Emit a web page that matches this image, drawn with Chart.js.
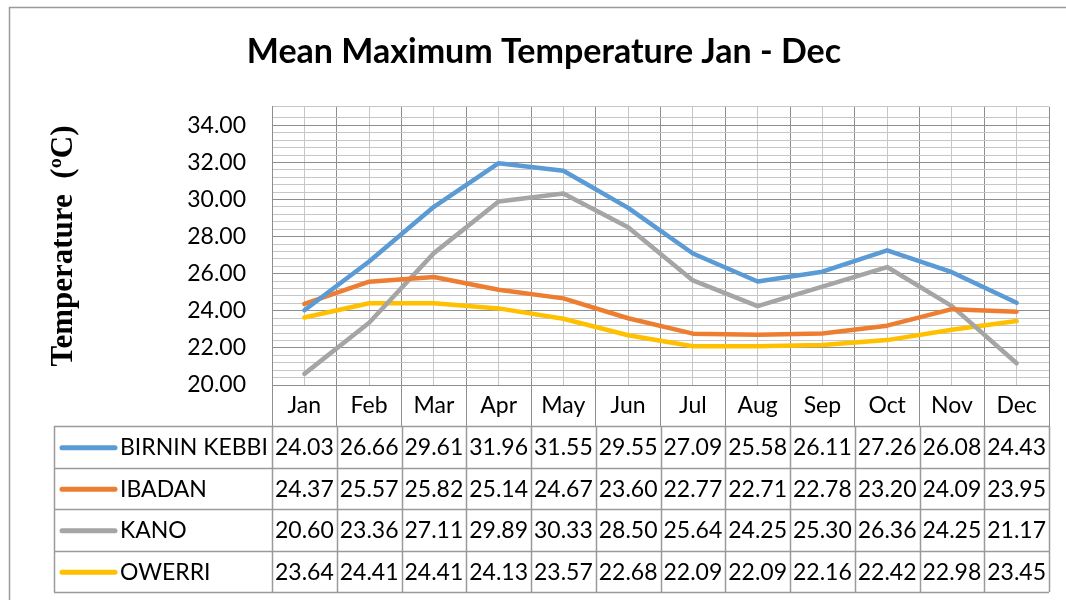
<!DOCTYPE html>
<html>
<head>
<meta charset="utf-8">
<script src="https://cdn.jsdelivr.net/npm/chart.js@4/dist/chart.umd.min.js"></script>
<style>
  html, body { margin: 0; padding: 0; background: #fff; }
  #wrap { width: 1066px; height: 600px; position: relative; }
</style>
</head>
<body>
<div id="wrap"><canvas id="tempChart" width="1066" height="600"></canvas></div>
<script>
// values
var months = ['Jan', 'Feb', 'Mar', 'Apr', 'May', 'Jun', 'Jul', 'Aug', 'Sep', 'Oct', 'Nov', 'Dec'];
var seriesNames = ['BIRNIN KEBBI', 'IBADAN', 'KANO', 'OWERRI'];
var birninKebbi = [24.03, 26.66, 29.61, 31.96, 31.55, 29.55, 27.09, 25.58, 26.11, 27.26, 26.08, 24.43];
var ibadan      = [24.37, 25.57, 25.82, 25.14, 24.67, 23.60, 22.77, 22.71, 22.78, 23.20, 24.09, 23.95];
var kano        = [20.60, 23.36, 27.11, 29.89, 30.33, 28.50, 25.64, 24.25, 25.30, 26.36, 24.25, 21.17];
var owerri      = [23.64, 24.41, 24.41, 24.13, 23.57, 22.68, 22.09, 22.09, 22.16, 22.42, 22.98, 23.45];
var yMin = 20, yMax = 35, yMajor = 2, yMinor = 0.4;

var allSeries = [birninKebbi, ibadan, kano, owerri];
var lineColors = ['#5B9BD5', '#ED7D31', '#A5A5A5', '#FFC000'];
var majorGrid = '#8e8e8e';
var minorGrid = '#c6c6c6';
var uiFont = 'Lato, "Open Sans", sans-serif';

function isMajor(v) {
   var q = (v - yMin) / yMajor;
   return Math.abs(q - Math.round(q)) < 1e-6;
}

// frame around the whole chart object (cut off at right and bottom)
var frame = {
   id: 'frame',
   beforeDraw: function(chart) {
      var ctx = chart.ctx;
      ctx.save();
      ctx.strokeStyle = '#9a9a9a';
      ctx.lineWidth = 1.5;
      ctx.beginPath();
      ctx.moveTo(9.5, chart.height);
      ctx.lineTo(9.5, 7.5);
      ctx.lineTo(chart.width, 7.5);
      ctx.stroke();
      ctx.restore();
   }
};

// data table with legend keys, columns follow the x scale
var dataTable = {
   id: 'dataTable',
   afterDraw: function(chart) {
      var ctx = chart.ctx;
      var xs = chart.scales.x;
      var area = chart.chartArea;
      var step = xs.getPixelForValue(1) - xs.getPixelForValue(0);
      var firstX = xs.getPixelForValue(0) - step / 2;
      var top = area.bottom + 41;
      var rowH = 41.5;
      var left = 54;
      var bottom = top + rowH * seriesNames.length;

      ctx.save();
      ctx.strokeStyle = '#9a9a9a';
      ctx.lineWidth = 1.5;
      ctx.beginPath();
      for (var r = 0; r <= seriesNames.length; r++) {
         var yy = Math.round(top + r * rowH) + 0.5;
         ctx.moveTo(left, yy);
         ctx.lineTo(area.right, yy);
      }
      ctx.moveTo(left + 0.5, top);
      ctx.lineTo(left + 0.5, bottom);
      for (var i = 0; i <= months.length; i++) {
         var xx = Math.round(firstX + i * step) + 0.5;
         ctx.moveTo(xx, top);
         ctx.lineTo(xx, bottom);
      }
      ctx.stroke();

      ctx.font = '23px ' + uiFont;
      ctx.fillStyle = '#000';
      ctx.textBaseline = 'middle';
      for (var s = 0; s < seriesNames.length; s++) {
         var cy = top + rowH * s + rowH / 2 + 1;
         // legend key
         ctx.strokeStyle = lineColors[s];
         ctx.lineWidth = 5;
         ctx.lineCap = 'round';
         ctx.beginPath();
         ctx.moveTo(62, cy);
         ctx.lineTo(115, cy);
         ctx.stroke();
         ctx.textAlign = 'left';
         ctx.fillText(seriesNames[s], 120, cy);
         ctx.textAlign = 'center';
         for (var m = 0; m < months.length; m++) {
            ctx.fillText(allSeries[s][m].toFixed(2), xs.getPixelForValue(m), cy);
         }
      }
      ctx.restore();
   }
};

var datasets = [];
for (var k = 0; k < seriesNames.length; k++) {
   datasets.push({
      label: seriesNames[k],
      data: allSeries[k],
      borderColor: lineColors[k],
      backgroundColor: lineColors[k],
      borderWidth: 4.5,
      borderCapStyle: 'round',
      borderJoinStyle: 'round',
      pointRadius: 0,
      tension: 0
   });
}

var ctx = document.getElementById('tempChart').getContext('2d');
var chart = new Chart(ctx, {
   type: 'line',
   data: { labels: months, datasets: datasets },
   options: {
      responsive: false,
      animation: false,
      layout: { padding: { left: 39, right: 17, top: 0, bottom: 0 } },
      plugins: {
         legend: { display: false },
         tooltip: { enabled: false },
         title: {
            display: true,
            text: 'Mean Maximum Temperature Jan - Dec',
            color: '#000',
            font: { family: uiFont, size: 34, weight: 'bold' },
            padding: { top: 32, bottom: 34 }
         }
      },
      scales: {
         x: {
            type: 'category',
            offset: true,
            grid: { offset: true, color: majorGrid, tickColor: majorGrid, tickLength: 41, lineWidth: 1 },
            border: { color: majorGrid },
            ticks: { color: '#000', font: { family: uiFont, size: 23 }, padding: -34, maxRotation: 0 },
            afterFit: function(scale) { scale.height = 215; }
         },
         xMinor: {
            type: 'category',
            position: 'bottom',
            offset: true,
            grid: { offset: false, color: minorGrid, drawTicks: false, lineWidth: 1 },
            border: { display: false },
            ticks: { display: false },
            afterFit: function(scale) { scale.height = 0; }
         },
         y: {
            min: yMin,
            max: yMax,
            grid: {
               drawTicks: false,
               color: function(c) { return isMajor(c.tick.value) ? majorGrid : minorGrid; }
            },
            border: { color: majorGrid },
            ticks: {
               stepSize: yMinor,
               autoSkip: false,
               padding: 26,
               color: '#000',
               font: { family: uiFont, size: 23 },
               callback: function(v) { return isMajor(v) ? v.toFixed(2) : ''; }
            },
            title: {
               display: true,
               text: 'Temperature  (ºC)',
               color: '#000',
               font: { family: '"Liberation Serif", "Times New Roman", serif', size: 31, weight: 'bold' },
               padding: { top: 6, bottom: 0 }
            },
            afterFit: function(scale) { scale.width = 233; }
         }
      }
   },
   plugins: [frame, dataTable]
});
</script>
</body>
</html>
